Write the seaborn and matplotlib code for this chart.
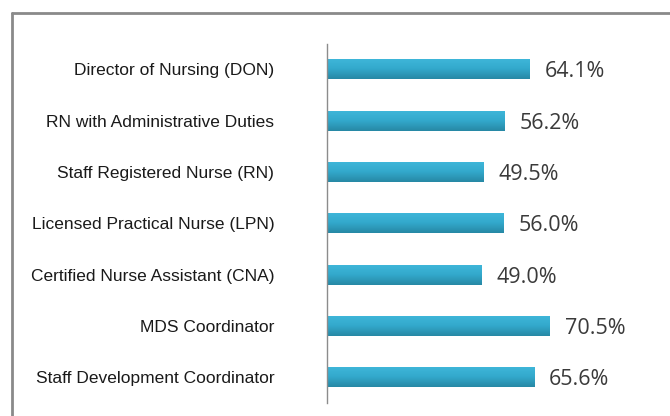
import matplotlib
matplotlib.use('Agg')
import matplotlib.pyplot as plt
import seaborn as sns
import numpy as np
import pandas as pd
from matplotlib.lines import Line2D
from matplotlib.colors import LinearSegmentedColormap

roles = [
    'Director of Nursing (DON)',
    'RN with Administrative Duties',
    'Staff Registered Nurse (RN)',
    'Licensed Practical Nurse (LPN)',
    'Certified Nurse Assistant (CNA)',
    'MDS Coordinator',
    'Staff Development Coordinator',
]
pct = [64.1, 56.2, 49.5, 56.0, 49.0, 70.5, 65.6]

df = pd.DataFrame({'role': roles, 'pct': pct})

sns.set_style('white')
plt.rcParams['font.family'] = ['Liberation Sans', 'DejaVu Sans']

fig = plt.figure(figsize=(6.7, 4.16), dpi=100)
# axes: left edge sits on the vertical axis line
ax = fig.add_axes([327 / 670, 1 - 403 / 416, 316 / 670, 359.3 / 416])

sns.barplot(data=df, x='pct', y='role', color='#31A6C8', saturation=1,
            width=0.39, ax=ax, edgecolor='none')

# vertical shading on each bar (lighter top, darker bottom)
grad = LinearSegmentedColormap.from_list('bar', ['#3FB7DA', '#33A9CC', '#2788A5'])
for p in ax.patches:
    x0, y0 = p.get_x(), p.get_y()
    w, h = p.get_width(), p.get_height()
    im = ax.imshow(np.linspace(0, 1, 64).reshape(-1, 1), cmap=grad, aspect='auto',
                   extent=[x0, x0 + w, y0 + h, y0], origin='upper', zorder=p.get_zorder() + 0.1)
    im.set_clip_path(p)

ax.set_xlim(0, 100)
ax.set_ylim(6.5, -0.5)
ax.set_xlabel('')
ax.set_ylabel('')
ax.set_xticks([])
for s in ['top', 'right', 'bottom']:
    ax.spines[s].set_visible(False)
ax.spines['left'].set_color('#8c8c8c')
ax.spines['left'].set_linewidth(1)
ax.tick_params(axis='y', length=0, pad=38, labelsize=12.5, labelcolor='#1a1a1a')

for i, v in enumerate(pct):
    ax.text(v + 4.7, i + 0.05, f'{v:.1f}%', va='center', ha='left',
            fontsize=15.5, color='#3a3a3a', family=['Open Sans', 'DejaVu Sans'])

# outer frame (top and left edges visible)
fig.add_artist(Line2D([12 / 670, 12 / 670], [0, 1 - 13 / 416],
                      transform=fig.transFigure, color='#8a8a8a', lw=2))
fig.add_artist(Line2D([12 / 670, 1], [1 - 13 / 416, 1 - 13 / 416],
                      transform=fig.transFigure, color='#8a8a8a', lw=2))

fig.savefig('out.png', dpi=100)
